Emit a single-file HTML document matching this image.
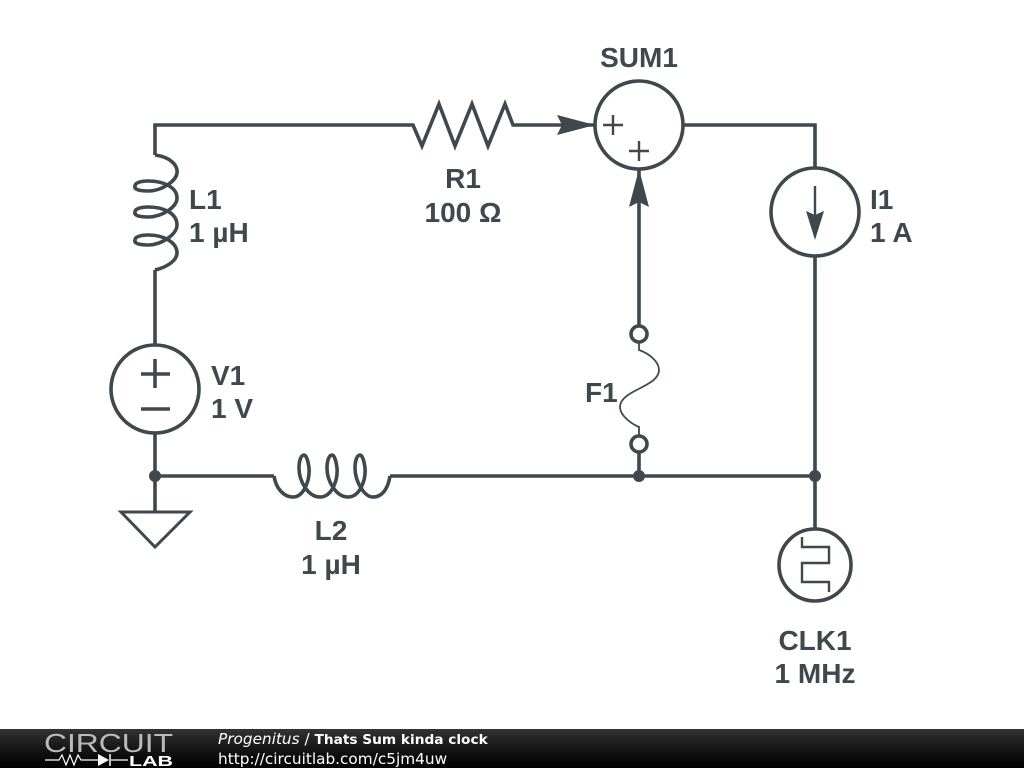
<!DOCTYPE html>
<html>
<head>
<meta charset="utf-8">
<title>Thats Sum kinda clock</title>
<style>
html,body{margin:0;padding:0;background:#fff;width:1024px;height:768px;overflow:hidden}
svg{display:block;filter:blur(0.35px)}
.w{fill:none;stroke:#3f484d;stroke-width:3.6;stroke-linejoin:miter}
.t{fill:none;stroke:#3f484d;stroke-width:2.4}
.l{font-family:"Liberation Sans",sans-serif;font-weight:bold;font-size:28px;fill:#3f484d}
.m{text-anchor:middle}
.f{font-family:"DejaVu Sans",sans-serif;font-size:15.3px;fill:#fff}
</style>
</head>
<body>
<svg width="1024" height="768" viewBox="0 0 1024 768" xmlns="http://www.w3.org/2000/svg">
<defs>
<linearGradient id="g" x1="0" y1="0" x2="0" y2="1">
<stop offset="0" stop-color="#333"/>
<stop offset="0.5" stop-color="#161616"/>
<stop offset="1" stop-color="#000"/>
</linearGradient>
</defs>
<rect width="1024" height="768" fill="#fff"/>

<!-- wires -->
<path class="w" d="M155 155V125H413L422 146L439 104L455 146L472 104L488 146L505 104L513 125H595"/>
<path class="w" d="M683 125H815V168M815 256V529"/>
<path class="w" d="M155 270V345M155 433V511"/>
<path class="w" d="M155 476H274M390 476H815"/>
<path class="w" d="M639 169V325M639 452V476"/>

<!-- L1 -->
<path class="w" d="M155 155C170 157 178 165 177 173C176 181 162 191 148 191C138 191 134 189 135 186C135 183 140 181 148 181C165 181 177 188 177 198C177 207 162 217 148 217C138 217 134 215 135 212C135 209 140 207 148 207C165 207 177 214 177 225C177 234 162 245 148 245C138 245 134 243 135 240C135 237 140 235 148 235C165 235 177 243 177 253C177 260 168 267 155 270"/>
<!-- L2 -->
<path class="w" d="M274 476C276 489 284 497 293 497C304 497 310 480 309 468C308 460 306 455 304 455C301 455 299 461 299 468C299 481 308 497 320 497C332 497 338 480 337 468C336 460 334 455 332 455C329 455 327 461 327 468C327 481 336 497 348 497C360 497 366 480 365 468C364 460 362 455 360 455C357 455 355 461 355 468C355 481 364 497 373 497C382 497 388 489 390 476"/>

<!-- SUM1 -->
<circle class="w" cx="639" cy="125" r="44"/>
<path class="t" d="M603 125H623M613 115V135M629 151H649M639 141V161"/>
<path d="M557 115L595 125L557 135L562 125Z" fill="#3f484d"/>
<path d="M629 207L639 169L649 207L639 202Z" fill="#3f484d"/>

<!-- I1 -->
<circle class="w" cx="815" cy="212" r="44"/>
<path class="t" d="M815 186V216" stroke-width="3"/>
<path d="M806 211L815 215L824 211L815 240Z" fill="#3f484d"/>

<!-- V1 -->
<circle class="w" cx="155" cy="389" r="44"/>
<path class="w" d="M141 374H170M155 359V388M141 409H170"/>

<!-- Junctions -->
<circle cx="155" cy="476" r="6" fill="#3f484d"/>
<circle cx="639" cy="476" r="6" fill="#3f484d"/>
<circle cx="815" cy="476" r="6" fill="#3f484d"/>

<!-- Ground -->
<path class="w" style="stroke-width:3" d="M121 512H190L155 547Z"/>

<!-- F1 -->
<circle class="w" cx="639" cy="334" r="8" style="fill:#fff"/>
<circle class="w" cx="639" cy="444" r="8" style="fill:#fff"/>
<path fill="none" stroke="#3f484d" stroke-width="1.8" d="M639 342V350C648 353 659 361 659 370C659 387 620 390 620 407C620 416 632 424 639 427V436"/>

<!-- CLK1 -->
<circle class="w" cx="815" cy="565" r="36"/>
<path class="t" d="M802 537V547H829V563H802V582H829V592"/>

<!-- Labels -->
<text class="l m" x="639" y="67">SUM1</text>
<text class="l m" x="463" y="188">R1</text>
<text class="l m" x="463" y="222">100 Ω</text>
<text class="l" x="189" y="209">L1</text>
<text class="l" x="189" y="242">1 µH</text>
<text class="l" x="211" y="385">V1</text>
<text class="l" x="211" y="418">1 V</text>
<text class="l" x="870" y="209">I1</text>
<text class="l" x="870" y="242">1 A</text>
<text class="l" x="585" y="402">F1</text>
<text class="l m" x="331" y="540">L2</text>
<text class="l m" x="331" y="574">1 µH</text>
<text class="l m" x="815" y="650">CLK1</text>
<text class="l m" x="815" y="683">1 MHz</text>

<!-- Footer -->
<rect x="0" y="729" width="1024" height="39" fill="url(#g)"/>
<text x="44" y="752" font-family="'Liberation Sans',sans-serif" font-size="26" fill="#bbb" textLength="129" lengthAdjust="spacingAndGlyphs">CIRCUIT</text>
<path fill="none" stroke="#fff" stroke-width="1.2" d="M45 760H59L62 755L66 765L70 755L74 765L78 755L81 760H98M111 760H128"/>
<path d="M98 754L109 760L98 766Z" fill="#fff"/>
<path d="M110 754V766" stroke="#fff" stroke-width="1.5"/>
<text x="129" y="766" font-family="'Liberation Sans',sans-serif" font-weight="bold" font-size="15" fill="#fff" textLength="44" lengthAdjust="spacingAndGlyphs">LAB</text>
<text class="f" x="218" y="744"><tspan font-style="italic">Progenitus</tspan> / <tspan font-weight="bold" font-size="13.7">Thats Sum kinda clock</tspan></text>
<text class="f" x="218" y="764">http://circuitlab.com/c5jm4uw</text>
</svg>
</body>
</html>
